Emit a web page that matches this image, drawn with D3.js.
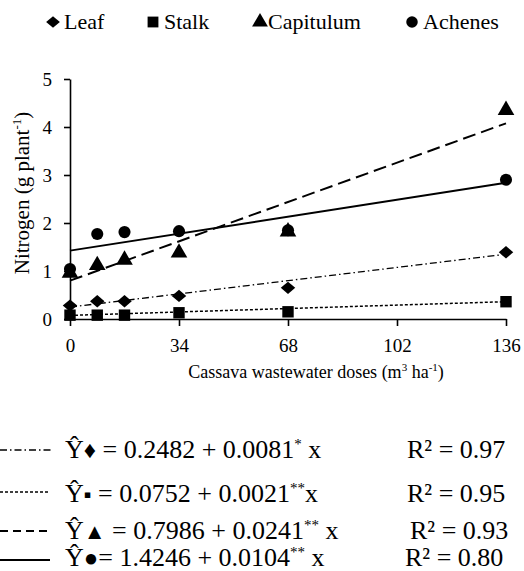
<!DOCTYPE html>
<html>
<head>
<meta charset="utf-8">
<script src="https://cdn.jsdelivr.net/npm/d3@7"></script>
<style>
  body { margin: 0; background: #fff; }
  svg text { font-family: "Liberation Serif", "Times New Roman", "DejaVu Serif", serif; fill: #000; }
</style>
</head>
<body>
<svg id="chart" width="524" height="571" style="font-family: 'Liberation Serif', 'Times New Roman', serif"></svg>
<script>
// Doses (m3 ha-1) and nitrogen (g plant-1) by plant part.
const doses = [0, 8.5, 17, 34, 68, 136];
const leaf = [0.28, 0.37, 0.37, 0.48, 0.65, 1.39];
const stalk = [0.08, 0.08, 0.08, 0.13, 0.15, 0.36];
const capitulum = [0.96, 1.12, 1.23, 1.38, 1.82, 4.35];
const achenes = [1.04, 1.77, 1.81, 1.83, 1.85, 2.90];

const seriesNames = ["Leaf", "Stalk", "Capitulum", "Achenes"];
const intercepts = [0.2482, 0.0752, 0.7986, 1.4246];
const slopes = [0.0081, 0.0021, 0.0241, 0.0104];
const signif = ["*", "**", "**", "**"];
const rSquared = ["0.97", "0.95", "0.93", "0.80"];
const eqSymbols = ["\u2666", "\u25AA", "\u25B2", "\u25CF"];

const xTicks = [0, 34, 68, 102, 136];
const yTicks = [0, 1, 2, 3, 4, 5];

const serif = "'Liberation Serif', 'Times New Roman', serif";

let svg = d3.select("#chart");

let plot = { left: 70, right: 506, top: 79, bottom: 319 };

let x = d3.scaleLinear().domain([0, 136]).range([plot.left, plot.right]);
let y = d3.scaleLinear().domain([0, 5]).range([plot.bottom, plot.top]);

// Diamond is a rotated square squashed a little vertically.
let styles = [
    { symbol: d3.symbolSquare, size: 105, dash: "7,3,1.5,3", width: 1.3, extra: " scale(1,0.85) rotate(45)" },
    { symbol: d3.symbolSquare, size: 130, dash: "3,2", width: 1.5, extra: "" },
    { symbol: d3.symbolTriangle, size: 120, dash: "13,6", width: 2, extra: "" },
    { symbol: d3.symbolCircle, size: 115, dash: null, width: 2, extra: "" }
];
let allSeries = [leaf, stalk, capitulum, achenes];

// Axes.
let yAxis = svg.append("g")
    .attr("transform", "translate(" + plot.left + ",0)")
    .call(d3.axisLeft(y).tickValues(yTicks).tickFormat(d3.format("d"))
        .tickSize(6).tickPadding(12).tickSizeOuter(0));
let xAxis = svg.append("g")
    .attr("transform", "translate(0," + plot.bottom + ")")
    .call(d3.axisBottom(x).tickValues(xTicks).tickFormat(d3.format("d"))
        .tickSize(7).tickPadding(13).tickSizeOuter(0));
[xAxis, yAxis].forEach(ax => {
    ax.attr("font-family", serif).attr("font-size", null);
    ax.selectAll("path, line").attr("stroke", "#000").attr("stroke-width", 1.6);
    ax.selectAll("text").style("font-size", "19px").style("font-family", serif);
});

// Axis titles.
let yTitle = svg.append("text")
    .attr("transform", "translate(29,193) rotate(-90)")
    .attr("text-anchor", "middle")
    .style("font-family", serif)
    .style("font-size", "21px");
yTitle.append("tspan").text("Nitrogen (g plant");
yTitle.append("tspan").attr("dy", -8).style("font-size", "13px").text("-1");
yTitle.append("tspan").attr("dy", 8).text(")");

let xTitle = svg.append("text")
    .attr("x", 316)
    .attr("y", 378)
    .attr("text-anchor", "middle")
    .style("font-family", serif)
    .style("font-size", "18px");
xTitle.append("tspan").text("Cassava wastewater doses (m");
xTitle.append("tspan").attr("dy", -7).style("font-size", "11px").text("3");
xTitle.append("tspan").attr("dy", 7).text(" ha");
xTitle.append("tspan").attr("dy", -7).style("font-size", "11px").text("-1");
xTitle.append("tspan").attr("dy", 7).text(")");

// Regression lines.
seriesNames.forEach((name, i) => {
    let st = styles[i];
    svg.append("line")
        .attr("x1", x(0))
        .attr("x2", x(136))
        .attr("y1", y(intercepts[i]))
        .attr("y2", y(intercepts[i] + slopes[i] * 136))
        .attr("stroke", "#000")
        .attr("stroke-width", st.width)
        .attr("stroke-dasharray", st.dash);
});

// Points.
seriesNames.forEach((name, i) => {
    let st = styles[i];
    let gen = d3.symbol().type(st.symbol).size(st.size);
    svg.append("g").selectAll("path")
        .data(allSeries[i])
        .join("path")
        .attr("d", gen)
        .attr("transform", (d, j) => "translate(" + x(doses[j]) + "," + y(d) + ")" + st.extra)
        .attr("fill", "#000");
});

// Top legend.
let legendX = [53, 153, 260, 412];
seriesNames.forEach((name, i) => {
    let st = styles[i];
    svg.append("path")
        .attr("d", d3.symbol().type(st.symbol).size(st.size * 0.9)())
        .attr("transform", "translate(" + legendX[i] + ",22)" + st.extra)
        .attr("fill", "#000");
    svg.append("text")
        .attr("x", legendX[i] + (i === 2 ? 8 : 11))
        .attr("y", 29)
        .style("font-family", serif)
        .style("font-size", "22px")
        .text(name);
});

// Equation legend.
let rowLineY = [450, 492, 531, 560];
let rowBase = [458, 502, 539, 566];
let rX = [407, 407, 410, 405];
let symSize = ["24px", "22px", "22px", "24px"];
seriesNames.forEach((name, i) => {
    let st = styles[i];
    svg.append("line")
        .attr("x1", 0)
        .attr("x2", i === 0 ? 53 : 50)
        .attr("y1", rowLineY[i])
        .attr("y2", rowLineY[i])
        .attr("stroke", "#000")
        .attr("stroke-width", i === 2 ? 1.8 : st.width)
        .attr("stroke-dasharray", i === 2 ? "8,5" : st.dash);

    let eq = svg.append("text")
        .attr("x", 65)
        .attr("y", rowBase[i])
        .style("font-family", serif)
        .style("font-size", "26px");
    eq.append("tspan").text("\u0176");
    eq.append("tspan").style("font-size", symSize[i]).text(eqSymbols[i]);
    eq.append("tspan").text((i === 3 ? "= " : " = ") + intercepts[i].toFixed(4) + " + " + slopes[i].toFixed(4));
    eq.append("tspan").attr("dy", -9).style("font-size", "15px").text(signif[i]);
    eq.append("tspan").attr("dy", 9).text(i === 1 ? "x" : " x");

    svg.append("text")
        .attr("x", rX[i])
        .attr("y", rowBase[i])
        .style("font-family", serif)
        .style("font-size", "26px")
        .text("R\u00B2 = " + rSquared[i]);
});
</script>
</body>
</html>
